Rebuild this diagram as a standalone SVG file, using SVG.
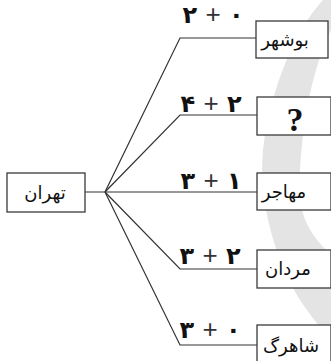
<svg xmlns="http://www.w3.org/2000/svg" width="331" height="361" viewBox="0 0 331 361">
<style>
.box{fill:#ffffff;stroke:#3a3a3a;stroke-width:1.3}
.ln{fill:none;stroke:#333333;stroke-width:1.2}
.nm{font-family:"DejaVu Sans",sans-serif;font-size:18px;fill:#111111;text-anchor:middle}
.lb{font-family:"DejaVu Sans",sans-serif;font-size:24px;font-weight:bold;fill:#111111;text-anchor:middle}
.pl{font-family:"Liberation Sans",sans-serif;font-weight:normal;font-size:26px;fill:#333333}
</style>
<rect width="331" height="361" fill="#ffffff"/>
<path d="M 323 0 C 295 30, 270 90, 263 150 C 258 200, 275 260, 300 300 C 310 315, 320 328, 331 338 L 331 255 C 305 230, 297 210, 300 170 C 303 120, 312 70, 331 30 L 331 0 Z" fill="#e4e4e4"/>
<g id="connectors">
<polyline class="ln" points="85,192 257,192"/>
<polyline class="ln" points="105,192 180,38 257,38"/>
<polyline class="ln" points="105,192 180,115 257,115"/>
<polyline class="ln" points="105,192 180,269 257,269"/>
<polyline class="ln" points="105,192 180,345 257,345"/>
<text class="lb" x="213" y="23" direction="ltr">۲ <tspan class="pl">+</tspan> ۰</text>
<text class="lb" x="211" y="112" direction="ltr">۴ <tspan class="pl">+</tspan> ۲</text>
<text class="lb" x="211" y="189" direction="ltr">۳ <tspan class="pl">+</tspan> ۱</text>
<text class="lb" x="210" y="264" direction="ltr">۳ <tspan class="pl">+</tspan> ۲</text>
<text class="lb" x="210" y="338" direction="ltr">۳ <tspan class="pl">+</tspan> ۰</text>
</g>
<g id="tehran">
<rect class="box" x="7" y="173" width="78" height="39"/>
<text class="nm" x="45" y="199" font-size="21">تهران</text>
</g>
<g id="bushehr">
<rect class="box" x="256" y="21" width="72" height="37"/>
<text class="nm" x="285" y="46">بوشهر</text>
</g>
<g id="unknown">
<rect class="box" x="257" y="97" width="74" height="38"/>
<text x="295" y="131" font-family="Liberation Serif, serif" font-size="34" font-weight="bold" fill="#111111" text-anchor="middle">?</text>
</g>
<g id="mohajer">
<rect class="box" x="257" y="173" width="74" height="37"/>
<text class="nm" x="284" y="198">مهاجر</text>
</g>
<g id="mardan">
<rect class="box" x="257" y="250" width="74" height="38"/>
<text class="nm" x="288" y="275">مردان</text>
</g>
<g id="shahrg">
<rect class="box" x="257" y="325" width="74" height="40"/>
<text class="nm" x="291" y="352" font-size="20">شاهرگ</text>
</g>
</svg>
